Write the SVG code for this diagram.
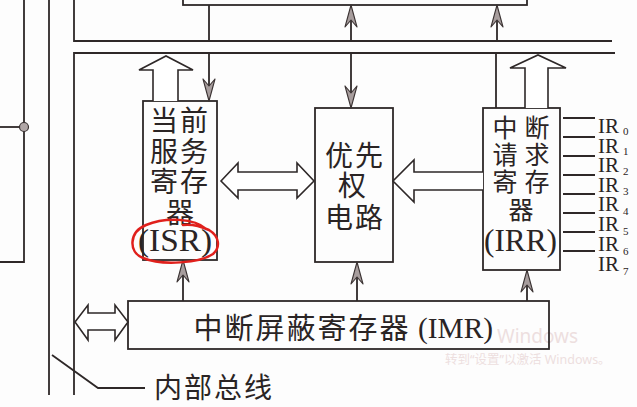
<svg xmlns="http://www.w3.org/2000/svg" width="637" height="407" viewBox="0 0 637 407">
<style>
.ln{stroke:#2e2828;stroke-width:1.8;fill:none}
.box{stroke:#2e2828;stroke-width:1.8;fill:none}
.blk{stroke:#2e2828;stroke-width:1.6;fill:#ffffff;stroke-linejoin:miter}
.cj{font-family:"Noto Sans CJK SC","Noto Sans CJK TC",sans-serif;fill:#2a2424;text-anchor:middle}
.lat{font-family:"Liberation Serif",serif;fill:#2a2424}
.wm{font-family:"Noto Sans","Noto Sans CJK SC",sans-serif;fill:#eddfdf}
</style>
<defs>
<marker id="ah" markerUnits="userSpaceOnUse" markerWidth="26" markerHeight="16" viewBox="-24 -8 26 16" refX="0" refY="0" orient="auto">
<path d="M0,0 L-22,-6 L-15,0 L-22,6 Z" fill="#a79d9d" stroke="#3a3232" stroke-width="1.1" stroke-linejoin="round"/>
</marker>
</defs>
<rect width="637" height="407" fill="#fdfdfd"/>

<g id="watermark">
<text class="wm" x="497" y="343" font-size="19">Windows</text>
<text class="wm" x="445" y="364" font-size="12.5">转到“设置”以激活 Windows。</text>
</g>

<g id="buses">
<path class="ln" d="M24,0 V262 H0"/>
<path class="ln" d="M0,127 H24"/>
<circle cx="24" cy="127" r="4.5" fill="#b0a6a6" stroke="#3a3232" stroke-width="1.2"/>
<path class="ln" d="M49,0 V395"/>
<path class="ln" d="M74,0 V41 H612"/>
<path class="ln" d="M74,395 V53 H615"/>
</g>

<g id="top-box">
<rect class="box" x="183" y="-20" width="344" height="25"/>
</g>

<g id="isr">
<rect class="box" x="143" y="101" width="74" height="159"/>
<text class="cj" font-size="28"><tspan x="164" y="131">当</tspan><tspan x="194" y="131">前</tspan><tspan x="164" y="162">服</tspan><tspan x="194" y="162">务</tspan><tspan x="164" y="192">寄</tspan><tspan x="194" y="192">存</tspan><tspan x="180" y="223">器</tspan></text>
<text class="lat" x="138" y="251" font-size="31" textLength="74" lengthAdjust="spacingAndGlyphs">(ISR)</text>
</g>

<g id="priority">
<rect class="box" x="315" y="108" width="78" height="154"/>
<text class="cj" font-size="28"><tspan x="339" y="166">优</tspan><tspan x="369" y="166">先</tspan><tspan x="352" y="196">权</tspan><tspan x="339" y="228">电</tspan><tspan x="369" y="228">路</tspan></text>
</g>

<g id="irr">
<rect class="box" x="483" y="108" width="77" height="162"/>
<text class="cj" font-size="25"><tspan x="505" y="137">中</tspan><tspan x="537" y="137">断</tspan><tspan x="505" y="164">请</tspan><tspan x="537" y="164">求</tspan><tspan x="505" y="191">寄</tspan><tspan x="537" y="191">存</tspan><tspan x="521" y="219">器</tspan></text>
<text class="lat" x="484" y="251" font-size="31" textLength="73" lengthAdjust="spacingAndGlyphs">(IRR)</text>
</g>

<g id="ir-inputs">
<path class="ln" d="M563,118 H595 M563,137 H595 M563,156 H595 M563,175 H595 M563,194 H595 M563,213 H595 M563,232 H595 M563,251 H595"/>
<text class="lat" font-size="21"><tspan x="598" y="133">IR</tspan><tspan x="598" y="153">IR</tspan><tspan x="598" y="172">IR</tspan><tspan x="598" y="192">IR</tspan><tspan x="598" y="211">IR</tspan><tspan x="598" y="231">IR</tspan><tspan x="598" y="251">IR</tspan><tspan x="598" y="271">IR</tspan></text>
<text class="lat" font-size="11"><tspan x="623" y="135">0</tspan><tspan x="623" y="155">1</tspan><tspan x="623" y="175">2</tspan><tspan x="623" y="195">3</tspan><tspan x="623" y="215">4</tspan><tspan x="623" y="235">5</tspan><tspan x="623" y="255">6</tspan><tspan x="623" y="275">7</tspan></text>
</g>

<g id="imr">
<rect class="box" x="128" y="301" width="421" height="48"/>
<text class="cj" font-size="29" letter-spacing="2" x="302" y="339">中断屏蔽寄存器</text>
<text class="lat" x="418" y="338" font-size="30" textLength="75" lengthAdjust="spacingAndGlyphs">(IMR)</text>
</g>

<g id="bus-label">
<path class="ln" d="M52,355 L98,388 H145"/>
<text class="cj" font-size="28" letter-spacing="2" x="214" y="398">内部总线</text>
</g>

<g id="connectors">
<path class="ln" d="M209,5 V41"/>
<path class="ln" d="M209,53 V101" marker-end="url(#ah)"/>
<path class="ln" d="M351,41 V5" marker-end="url(#ah)"/>
<path class="ln" d="M351,53 V108" marker-end="url(#ah)"/>
<path class="ln" d="M497,41 V5" marker-end="url(#ah)"/>
<path class="ln" d="M496,53 V108"/>
<path class="ln" d="M183,301 V260" marker-end="url(#ah)"/>
<path class="ln" d="M357,301 V262" marker-end="url(#ah)"/>
<path class="ln" d="M527,301 V270" marker-end="url(#ah)"/>
<path class="blk" d="M153,101 V70 H139 L166,56 L193,70 H178 V101"/>
<path class="blk" d="M525,108 V68 H510 L538,55 L566,68 H548 V108"/>
<path class="blk" d="M221,181 L238,163 V172 H297 V163 L314,181 L297,198 V190 H238 V198 Z"/>
<path class="blk" d="M483,172 H414 V160 L393,181 L414,202 V190 H483"/>
<path class="blk" d="M75,322 L88,305 V313 H115 V305 L128,322 L115,340 V330 H88 V340 Z"/>
</g>

<g id="highlight">
<path d="M206,229 C195,218 165,217 146,225 C129,232 128,252 143,258 C162,266 200,263 213,254 C221,247 219,236 209,230 C200,226 190,224 183,225" fill="none" stroke="#e0201c" stroke-width="2.5" stroke-linecap="round"/>
</g>
</svg>
